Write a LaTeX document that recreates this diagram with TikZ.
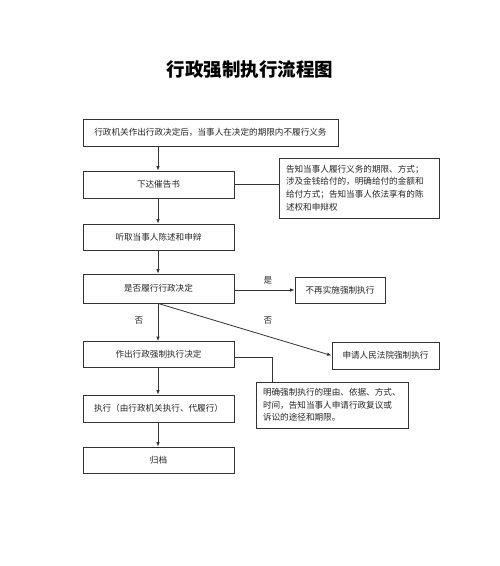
\documentclass[tikz,border=0pt]{standalone}
\usepackage{fontspec}
\newfontfamily\cjk{Noto Sans CJK SC}
\usetikzlibrary{arrows.meta}
\begin{document}
\begin{tikzpicture}[x=1pt,y=-1pt,
  box/.style={draw=black!80,line width=0.8pt,rectangle,inner sep=0pt,font=\cjk\fontsize{8.6}{12.6}\selectfont,text=black!85},
  note/.style={box,align=left,inner xsep=7pt,anchor=center},
  lbl/.style={font=\cjk\fontsize{8.6}{12.6}\selectfont,text=black!85,inner sep=0pt},
  arr/.style={draw=black!80,line width=0.8pt,-{Latex[length=4.5pt,width=3.5pt]}},
  ln/.style={draw=black!80,line width=0.8pt}]
\useasboundingbox (0,0) rectangle (500,566);
\fill[white] (0,0) rectangle (500,566);
\node[lbl,font=\cjk\bfseries\fontsize{18.5}{20}\selectfont,text=black] (title) at (250,70) {行政强制执行流程图};
\node[box,minimum width=255pt,minimum height=27pt] (b1) at (210.5,132.5) {行政机关作出行政决定后，当事人在决定的期限内不履行义务};
\node[box,minimum width=151pt,minimum height=27pt] (b2) at (158.5,184.5) {下达催告书};
\node[box,minimum width=151pt,minimum height=26pt] (b3) at (158.5,237) {听取当事人陈述和申辩};
\node[box,minimum width=151pt,minimum height=29pt] (b4) at (158.5,288.5) {是否履行行政决定};
\node[box,minimum width=151pt,minimum height=26pt] (b5) at (158.5,354.5) {作出行政强制执行决定};
\node[box,minimum width=151pt,minimum height=27pt] (b6) at (158.5,408.5) {执行（由行政机关执行、代履行）};
\node[box,minimum width=151pt,minimum height=26pt] (b7) at (158.5,460) {归档};
\node[box,minimum width=90pt,minimum height=26pt] (r1) at (340,290) {不再实施强制执行};
\node[box,minimum width=107pt,minimum height=27pt] (r2) at (385.5,355.5) {申请人民法院强制执行};
\node[note,minimum width=160pt,minimum height=60pt,text width=146pt] (n1) at (359,188) {告知当事人履行义务的期限、方式；\\涉及金钱给付的，明确给付的金额和\\给付方式；告知当事人依法享有的陈\\述权和申辩权};
\node[note,minimum width=152pt,minimum height=46pt,text width=138pt] (n2) at (332,405) {明确强制执行的理由、依据、方式、\\时间，告知当事人申请行政复议或\\诉讼的途径和期限。};
\coordinate (b1s) at (158,146);
\draw[arr] (b1s) -- (b2.north -| b1s);
\draw[arr] (b2.south -| b1s) -- (b3.north -| b1s);
\draw[arr] (b3.south -| b1s) -- (b4.north -| b1s);
\draw[arr] (b4.south -| b1s) -- (b5.north -| b1s);
\draw[arr] (b5.south -| b1s) -- (b6.north -| b1s);
\draw[arr] (b6.south -| b1s) -- (b7.north -| b1s);
\draw[ln] (b2.east) -- (n1.west |- b2.east);
\draw[arr] (b4.east |- r1.west) -- (r1.west);
\draw[arr] (b4.south -| b1s) -- (r2.west);
\coordinate (k) at (272,357);
\draw[ln] (b5.east |- k) -- (k) -- (n2.north -| k);
\node[lbl] (yes) at (268,280) {是};
\node[lbl] (no1) at (139,320) {否};
\node[lbl] (no2) at (268,320) {否};
\end{tikzpicture}
\end{document}
